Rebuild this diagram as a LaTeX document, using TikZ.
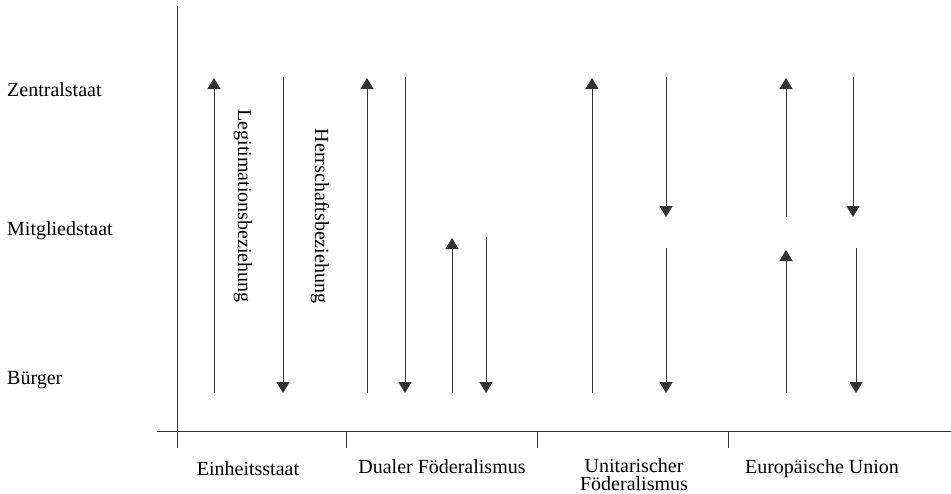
\documentclass[tikz,border=0pt]{standalone}
\usepackage{fontspec}
\setmainfont{Liberation Serif}
\usetikzlibrary{arrows.meta}
\tikzstyle{level} = [anchor=base west, inner sep=0pt, font=\fontsize{20}{24}\selectfont]
\tikzstyle{typ} = [anchor=base, align=center, inner sep=0pt, font=\fontsize{20}{18}\selectfont]
\tikzstyle{rel} = [rotate=-90, inner sep=0pt, font=\fontsize{20}{24}\selectfont]
\tikzstyle{axis} = [line width=1pt, draw=black!80]
\tikzstyle{arrow} = [line width=1pt, draw=black!80, -{Triangle[width=13pt,length=11pt]}]

\begin{document}
\begin{tikzpicture}[x=1pt, y=-1pt]
\useasboundingbox (0,0) rectangle (951,493);
\node (zentral) [level] at (7,96) {Zentralstaat};
\node (mitglied) [level] at (7,235) {Mitgliedstaat};
\node (buerger) [level] at (7,384) {Bürger};

\node (einheit) [typ] at (248,475) {Einheitsstaat};
\node (dual) [typ] at (442,473) {Dualer Föderalismus};
\node (unitar) [typ] at (634,490) {Unitarischer\\Föderalismus};
\node (eu) [typ] at (822,473) {Europäische Union};

\node (legit) [rel] at (243,206) {Legitimationsbeziehung};
\node (herr) [rel] at (320,216) {Herrschaftsbeziehung};

% axes
\coordinate (ytop) at (177,6);
\coordinate (ybot) at (177,448);
\coordinate (xleft) at (157,431);
\coordinate (xright) at (951,431);
\draw [axis] (ytop) -- (ybot);
\draw [axis] (xleft) -- (xright);
\coordinate (t1a) at (346,431); \coordinate (t1b) at (346,448);
\coordinate (t2a) at (537,431); \coordinate (t2b) at (537,448);
\coordinate (t3a) at (728,431); \coordinate (t3b) at (728,448);
\draw [axis] (t1a) -- (t1b);
\draw [axis] (t2a) -- (t2b);
\draw [axis] (t3a) -- (t3b);

% Einheitsstaat
\coordinate (ein1s) at (214,393); \coordinate (ein1e) at (214,78);
\coordinate (ein2s) at (283,77); \coordinate (ein2e) at (283,393);
\draw [arrow] (ein1s) -- (ein1e);
\draw [arrow] (ein2s) -- (ein2e);

% Dualer Foederalismus
\coordinate (dua1s) at (367,393); \coordinate (dua1e) at (367,78);
\coordinate (dua2s) at (405,77); \coordinate (dua2e) at (405,393);
\coordinate (dua3s) at (452,393); \coordinate (dua3e) at (452,238);
\coordinate (dua4s) at (486,237); \coordinate (dua4e) at (486,393);
\draw [arrow] (dua1s) -- (dua1e);
\draw [arrow] (dua2s) -- (dua2e);
\draw [arrow] (dua3s) -- (dua3e);
\draw [arrow] (dua4s) -- (dua4e);

% Unitarischer Foederalismus
\coordinate (uni1s) at (592,393); \coordinate (uni1e) at (592,78);
\coordinate (uni2s) at (666,77); \coordinate (uni2e) at (666,217);
\coordinate (uni3s) at (666,248); \coordinate (uni3e) at (666,393);
\draw [arrow] (uni1s) -- (uni1e);
\draw [arrow] (uni2s) -- (uni2e);
\draw [arrow] (uni3s) -- (uni3e);

% Europaeische Union
\coordinate (eu1s) at (786,217); \coordinate (eu1e) at (786,78);
\coordinate (eu2s) at (853,77); \coordinate (eu2e) at (853,217);
\coordinate (eu3s) at (786,393); \coordinate (eu3e) at (786,250);
\coordinate (eu4s) at (856,248); \coordinate (eu4e) at (856,393);
\draw [arrow] (eu1s) -- (eu1e);
\draw [arrow] (eu2s) -- (eu2e);
\draw [arrow] (eu3s) -- (eu3e);
\draw [arrow] (eu4s) -- (eu4e);
\end{tikzpicture}
\end{document}
